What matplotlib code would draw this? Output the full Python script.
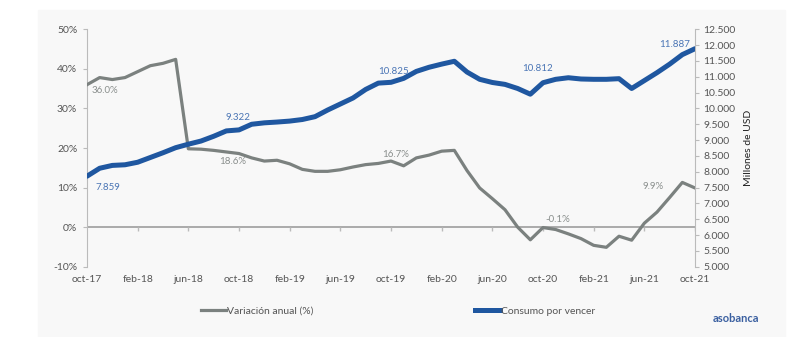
import numpy as np
import matplotlib.pyplot as plt
from matplotlib.patches import Rectangle

plt.rcParams['font.family'] = ['Lato', 'DejaVu Sans']

# monthly series, oct-17 .. oct-21
meses = ['oct-17', 'feb-18', 'jun-18', 'oct-18', 'feb-19', 'jun-19', 'oct-19',
         'feb-20', 'jun-20', 'oct-20', 'feb-21', 'jun-21', 'oct-21']

variacion = [36.0, 37.8, 37.3, 37.8, 39.3, 40.8, 41.4, 42.4,
             19.8, 19.7, 19.4, 19.0, 18.6, 17.5, 16.7, 16.9,
             16.0, 14.6, 14.1, 14.1, 14.5, 15.2, 15.8, 16.1,
             16.7, 15.5, 17.5, 18.2, 19.2, 19.4, 14.3, 9.9,
             7.2, 4.4, 0.0, -3.2, -0.1, -0.6, -1.7, -2.9,
             -4.6, -5.1, -2.3, -3.3, 1.0, 3.8, 7.5, 11.3, 9.9]

consumo = [7859, 8110, 8200, 8220, 8300, 8450, 8600, 8760,
           8870, 8970, 9120, 9290, 9322, 9500, 9545, 9570,
           9600, 9650, 9740, 9950, 10140, 10330, 10600, 10800,
           10825, 10950, 11170, 11300, 11400, 11490, 11150, 10920,
           10820, 10760, 10630, 10450, 10812, 10920, 10970, 10930,
           10920, 10920, 10940, 10630, 10880, 11130, 11400, 11700, 11887]

# points that carry a value label
idx_var = [0, 12, 24, 36, 48]
idx_con = [0, 12, 24, 36, 48]

x = np.arange(len(consumo))
gris = '#7b817f'
azul = '#1f57a0'

fig = plt.figure(figsize=(7.99, 3.37), dpi=100)
fig.patches.append(Rectangle((38 / 799, 0), 747 / 799, 327 / 337,
                             transform=fig.transFigure, color='#f8f8f8', zorder=-10))

ax = fig.add_axes([87 / 799, 1 - 266.7 / 337, 608 / 799, 237.4 / 337])
ax.patch.set_alpha(0)
ax2 = ax.twinx()

ax.plot(x, variacion, color=gris, lw=2.3, zorder=3)
ax2.plot(x, consumo, color=azul, lw=3.6, solid_capstyle='round', zorder=4)

ax.set_xlim(0, 48)
ax.set_ylim(-10, 50)
ax2.set_ylim(5000, 12500)

ax.set_yticks(range(-10, 51, 10))
ax.set_yticklabels([f'{v}%' for v in range(-10, 51, 10)])
ax2.set_yticks(range(5000, 12501, 500))
ax2.set_yticklabels([f'{v:,}'.replace(',', '.') for v in range(5000, 12501, 500)])

ax.set_xticks(np.arange(0, 49, 4))
ax.set_xticklabels(meses)
ax.tick_params(axis='x', length=0, pad=6, labelsize=7.5, labelcolor='#555555')
ax.tick_params(axis='y', length=3, color='#bbbbbb', labelsize=7.5, labelcolor='#555555', pad=4)
ax2.tick_params(axis='y', length=3, color='#bbbbbb', labelsize=7.5, labelcolor='#555555', pad=3)

for a in (ax, ax2):
    for s in ('top', 'bottom'):
        a.spines[s].set_visible(False)
ax.spines['right'].set_visible(False)
ax2.spines['left'].set_visible(False)
ax.spines['left'].set_color('#bbbbbb')
ax2.spines['right'].set_color('#bbbbbb')

# zero line with small tick marks
ax.axhline(0, color='#aaaaaa', lw=1.4, zorder=2)
ax.plot(np.arange(4, 49, 4), np.zeros(12), ls='none', marker=3, ms=3,
        color='#bbbbbb', zorder=2)

ax2.set_ylabel('Millones de USD', fontsize=7.5, color='#222222', labelpad=6)

# value labels
off_var = [(3, -4), (-14, -6), (-6, 5), (2, 6), (-38, 1)]
for i, (dx, dy) in zip(idx_var, off_var):
    ax.annotate(f'{variacion[i]:.1f}%', (x[i], variacion[i]),
                xytext=(dx, dy), textcoords='offset points', fontsize=7,
                color='#8a8f8d', ha='left', va='center', zorder=5)

off_con = [(6, -8), (-10, 9), (-9, 8), (-15, 10), (-26, 3)]
for i, (dx, dy) in zip(idx_con, off_con):
    ax2.annotate(f'{consumo[i]:,}'.replace(',', '.'), (x[i], consumo[i]),
                 xytext=(dx, dy), textcoords='offset points', fontsize=7,
                 color='#4a75b5', ha='left', va='center', zorder=5)

# legend, one entry per series
h1, = ax.plot([], [], color=gris, lw=2.3, label='Variación anual (%)')
h2, = ax.plot([], [], color=azul, lw=3.6, label='Consumo por vencer')
for h, x0 in ((h1, 201), (h2, 475)):
    fig.legend(handles=[h], loc='center left', bbox_to_anchor=(x0 / 799, 1 - 311 / 337),
               frameon=False, fontsize=7.5, handlelength=2.4, handletextpad=0.1,
               borderpad=0, borderaxespad=0, labelcolor='#555555')

fig.text(736 / 799, 1 - 318 / 337, 'asobanca', color='#3a5fa0', fontsize=8,
         ha='center', va='center', fontweight='bold')

fig.savefig('out.png', dpi=100)
